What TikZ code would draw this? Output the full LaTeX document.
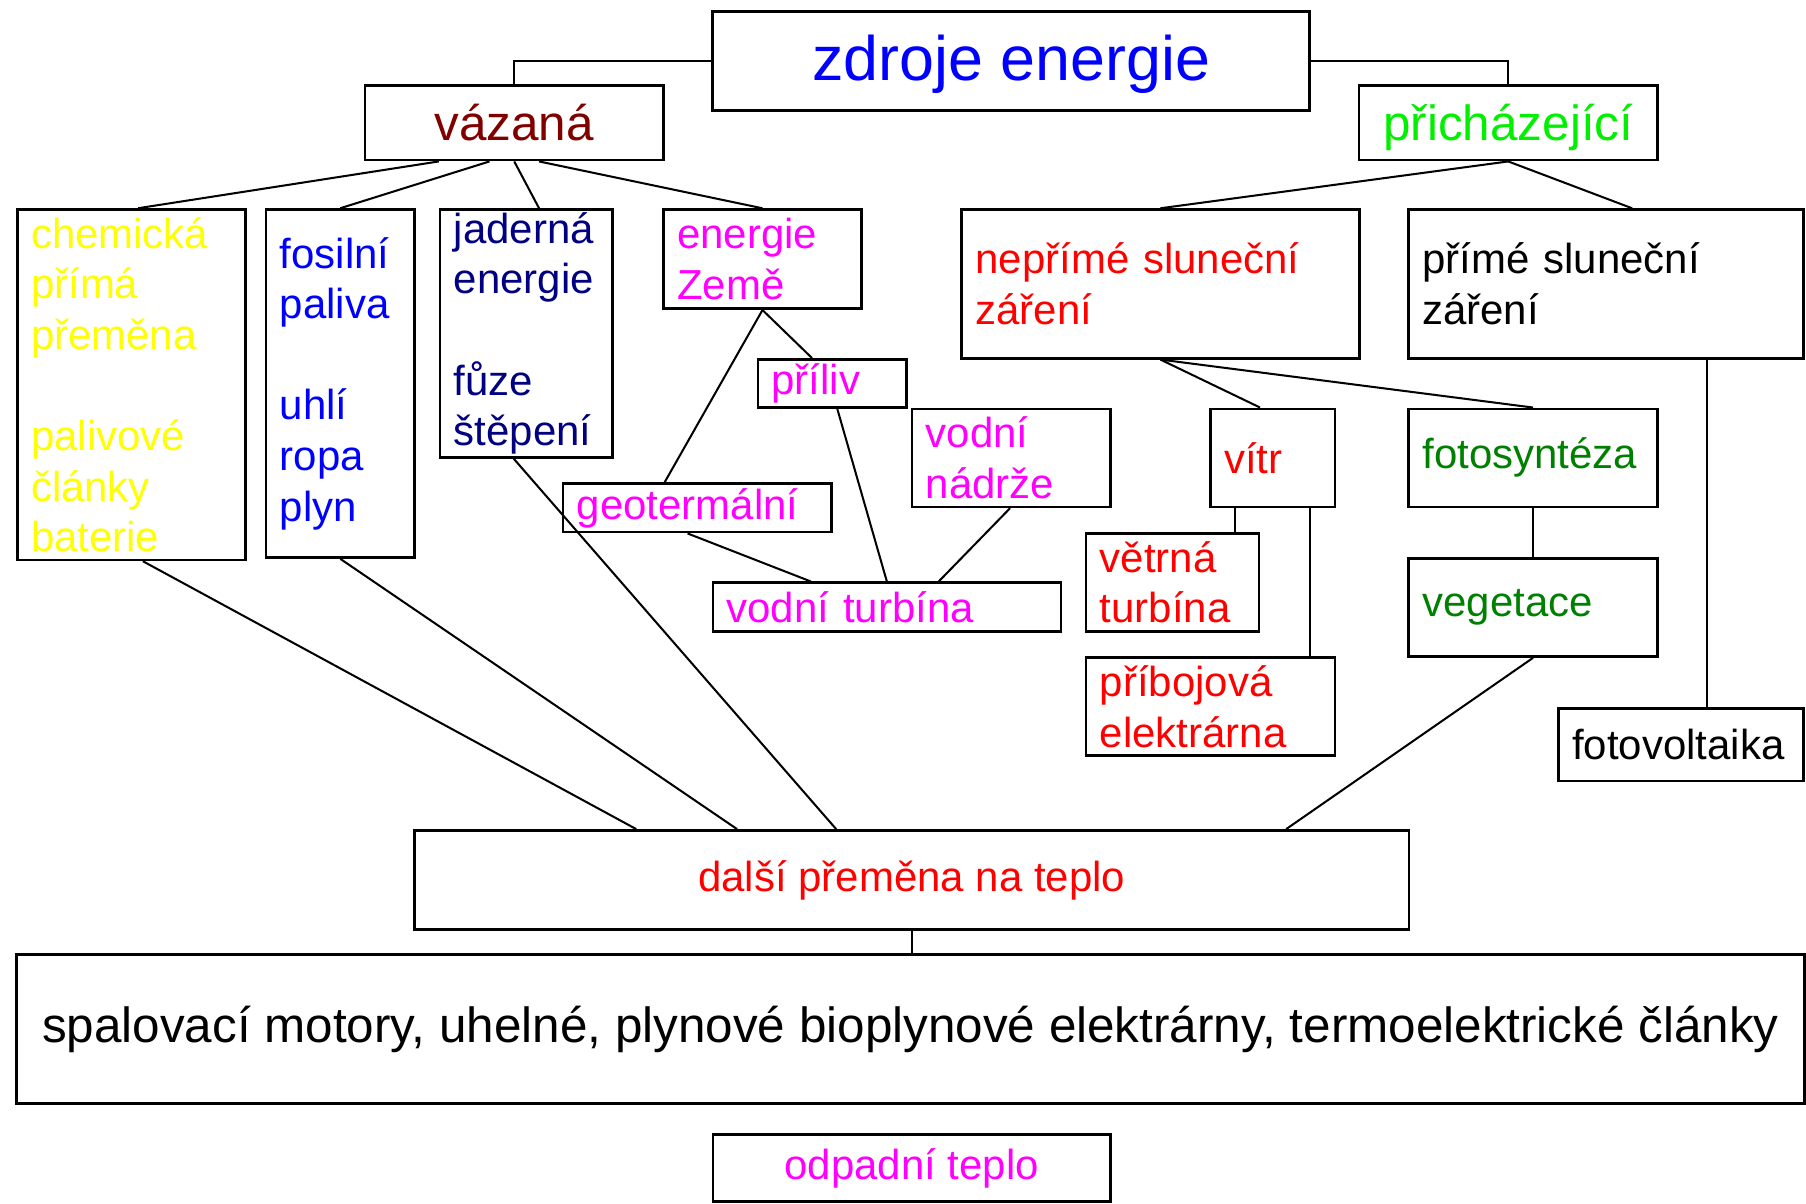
\documentclass[tikz,border=0pt]{standalone}
\usepackage{fontspec}
\setmainfont{Liberation Sans}
\definecolor{tblue}{HTML}{0000FF}
\definecolor{cvaz}{HTML}{800000}
\definecolor{cgreen}{HTML}{00F000}
\definecolor{cyel}{HTML}{FFFF00}
\definecolor{cnavy}{HTML}{000080}
\definecolor{cmag}{HTML}{FF00FF}
\definecolor{cred}{HTML}{FF0000}
\definecolor{dgreen}{HTML}{008000}
\begin{document}
\begin{tikzpicture}[x=0.01cm,y=-0.01cm,
  box/.style={draw, line width=0.65pt, rectangle, inner xsep=0.12cm, inner ysep=0pt, align=left,
    font=\fontsize{10.36pt}{12.5pt}\selectfont},
  cbox/.style={box, align=center},
  big/.style={font=\fontsize{12.2pt}{14.5pt}\selectfont},
  conn/.style={line width=0.5pt}]
\useasboundingbox (0,0) rectangle (1568,1045);

% top level
\node[cbox, text=tblue, font=\fontsize{15.5pt}{18pt}\selectfont, text height=0.46cm, text depth=0.115cm, minimum width=5.18cm, minimum height=0.86cm] (zdroje) at (878,53) {zdroje energie};
\node[cbox, big, text=cvaz, minimum width=2.59cm, minimum height=0.65cm] (vaz) at (446.5,106.5) {vázaná};
\node[cbox, big, text=cgreen, text depth=0pt, minimum width=2.59cm, minimum height=0.65cm] (prich) at (1309.5,106.5) {přicházející};

% second level
\node[box, text=cyel, text width=1.74cm, minimum height=3.04cm] (chem) at (114,334) {chemická\\přímá\\přeměna\\[12.5pt]palivové\\články\\baterie};
\node[box, text=tblue, text width=1.05cm, minimum height=3.02cm] (fosil) at (295.5,333) {fosilní\\paliva\\[12.5pt]uhlí\\ropa\\plyn};
\node[box, text=cnavy, text width=1.26cm, minimum height=2.15cm] (jad) at (457,289.5) {jaderná\\energie\\[12.5pt]fůze\\štěpení};
\node[box, text=cmag, text width=1.48cm, minimum height=0.86cm] (zeme) at (662,225) {energie\\Země};
\node[box, text=cred, text width=3.21cm, minimum height=1.29cm] (nepr) at (1007.5,246.5) {nepřímé sluneční\\záření};
\node[box, text=black, text width=3.19cm, minimum height=1.29cm] (prime) at (1394.5,246.5) {přímé sluneční\\záření};

% third level
\node[box, text=cmag, text width=1.05cm, minimum height=0.42cm] (priliv) at (722.5,333) {příliv};
\node[box, text=cmag, text width=1.48cm, minimum height=0.85cm] (nadrze) at (878,397.5) {vodní\\nádrže};
\node[box, text=cred, text width=0.84cm, minimum height=0.85cm] (vitr) at (1105,397.5) {vítr};
\node[box, text=dgreen, text width=1.92cm, minimum height=0.85cm] (foto) at (1331,397.5) {fotosyntéza};
\node[box, text=cmag, text width=2.09cm, minimum height=0.42cm] (geo) at (605.5,441) {geotermální};
\node[box, text=cmag, text width=2.78cm, minimum height=0.42cm] (turb) at (770,527) {vodní turbína};
\node[box, text=cred, text width=1.26cm, minimum height=0.85cm] (vetr) at (1018,505.5) {větrná\\turbína};
\node[box, text=dgreen, text width=1.92cm, minimum height=0.85cm] (veg) at (1331,527.5) {vegetace};
\node[box, text=cred, text width=1.92cm, minimum height=0.85cm] (prib) at (1051,613.5) {příbojová\\elektrárna};
\node[box, text=black, text width=1.89cm, minimum height=0.63cm] (fv) at (1459.5,646.5) {fotovoltaika};

% bottom
\node[cbox, text=cred, minimum width=8.63cm, minimum height=0.86cm] (dalsi) at (791.5,764) {další přeměna na teplo};
\node[cbox, big, text=black, minimum width=15.51cm, minimum height=1.29cm] (spal) at (790.5,893.5) {spalovací motory, uhelné, plynové bioplynové elektrárny, termoelektrické články};
\node[cbox, text=cmag, minimum width=3.45cm, minimum height=0.58cm] (odp) at (791.5,1014) {odpadní teplo};

% connectors
\draw[conn] (zdroje.west) -| (vaz.north);
\draw[conn] (zdroje.east) -| (prich.north);
\draw[conn] ([xshift=-0.655cm]vaz.south) -- ([xshift=0.06cm]chem.north);
\draw[conn] ([xshift=-0.215cm]vaz.south) -- (fosil.north);
\draw[conn] (vaz.south) -- ([xshift=0.11cm]jad.north);
\draw[conn] ([xshift=0.215cm]vaz.south) -- (zeme.north);
\draw[conn] (prich.south) -- (nepr.north);
\draw[conn] (prich.south) -- ([xshift=0.225cm]prime.north);
\draw[conn] (zeme.south) -- ([xshift=-0.285cm]geo.north);
\draw[conn] (zeme.south) -- ([xshift=-0.175cm]priliv.north);
\draw[conn] ([xshift=0.045cm]priliv.south) -- (turb.north);
\draw[conn] ([xshift=-0.01cm]nadrze.south) -- ([xshift=0.45cm]turb.north);
\draw[conn] ([xshift=-0.085cm]geo.south) -- ([xshift=-0.66cm]turb.north);
\draw[conn] ([xshift=-0.11cm]jad.south) -- ([xshift=-0.655cm]dalsi.north);
\draw[conn] ([xshift=0.1cm]chem.south) -- ([xshift=-2.39cm]dalsi.north);
\draw[conn] (fosil.south) -- ([xshift=-1.515cm]dalsi.north);
\draw[conn] (veg.south) -- ([xshift=3.25cm]dalsi.north);
\draw[conn] (nepr.south) -- ([xshift=-0.11cm]vitr.north);
\draw[conn] (nepr.south) -- (foto.north);
\draw[conn] ([xshift=-0.33cm]vitr.south) -- ([xshift=-0.33cm]vitr.south |- vetr.north);
\draw[conn] ([xshift=0.32cm]vitr.south) -- ([xshift=0.32cm]vitr.south |- prib.north);
\draw[conn] (foto.south) -- (veg.north);
\draw[conn] ([xshift=0.875cm]prime.south) -- ([xshift=0.875cm]prime.south |- fv.north);
\draw[conn] (dalsi.south) -- (dalsi.south |- spal.north);
\end{tikzpicture}
\end{document}
